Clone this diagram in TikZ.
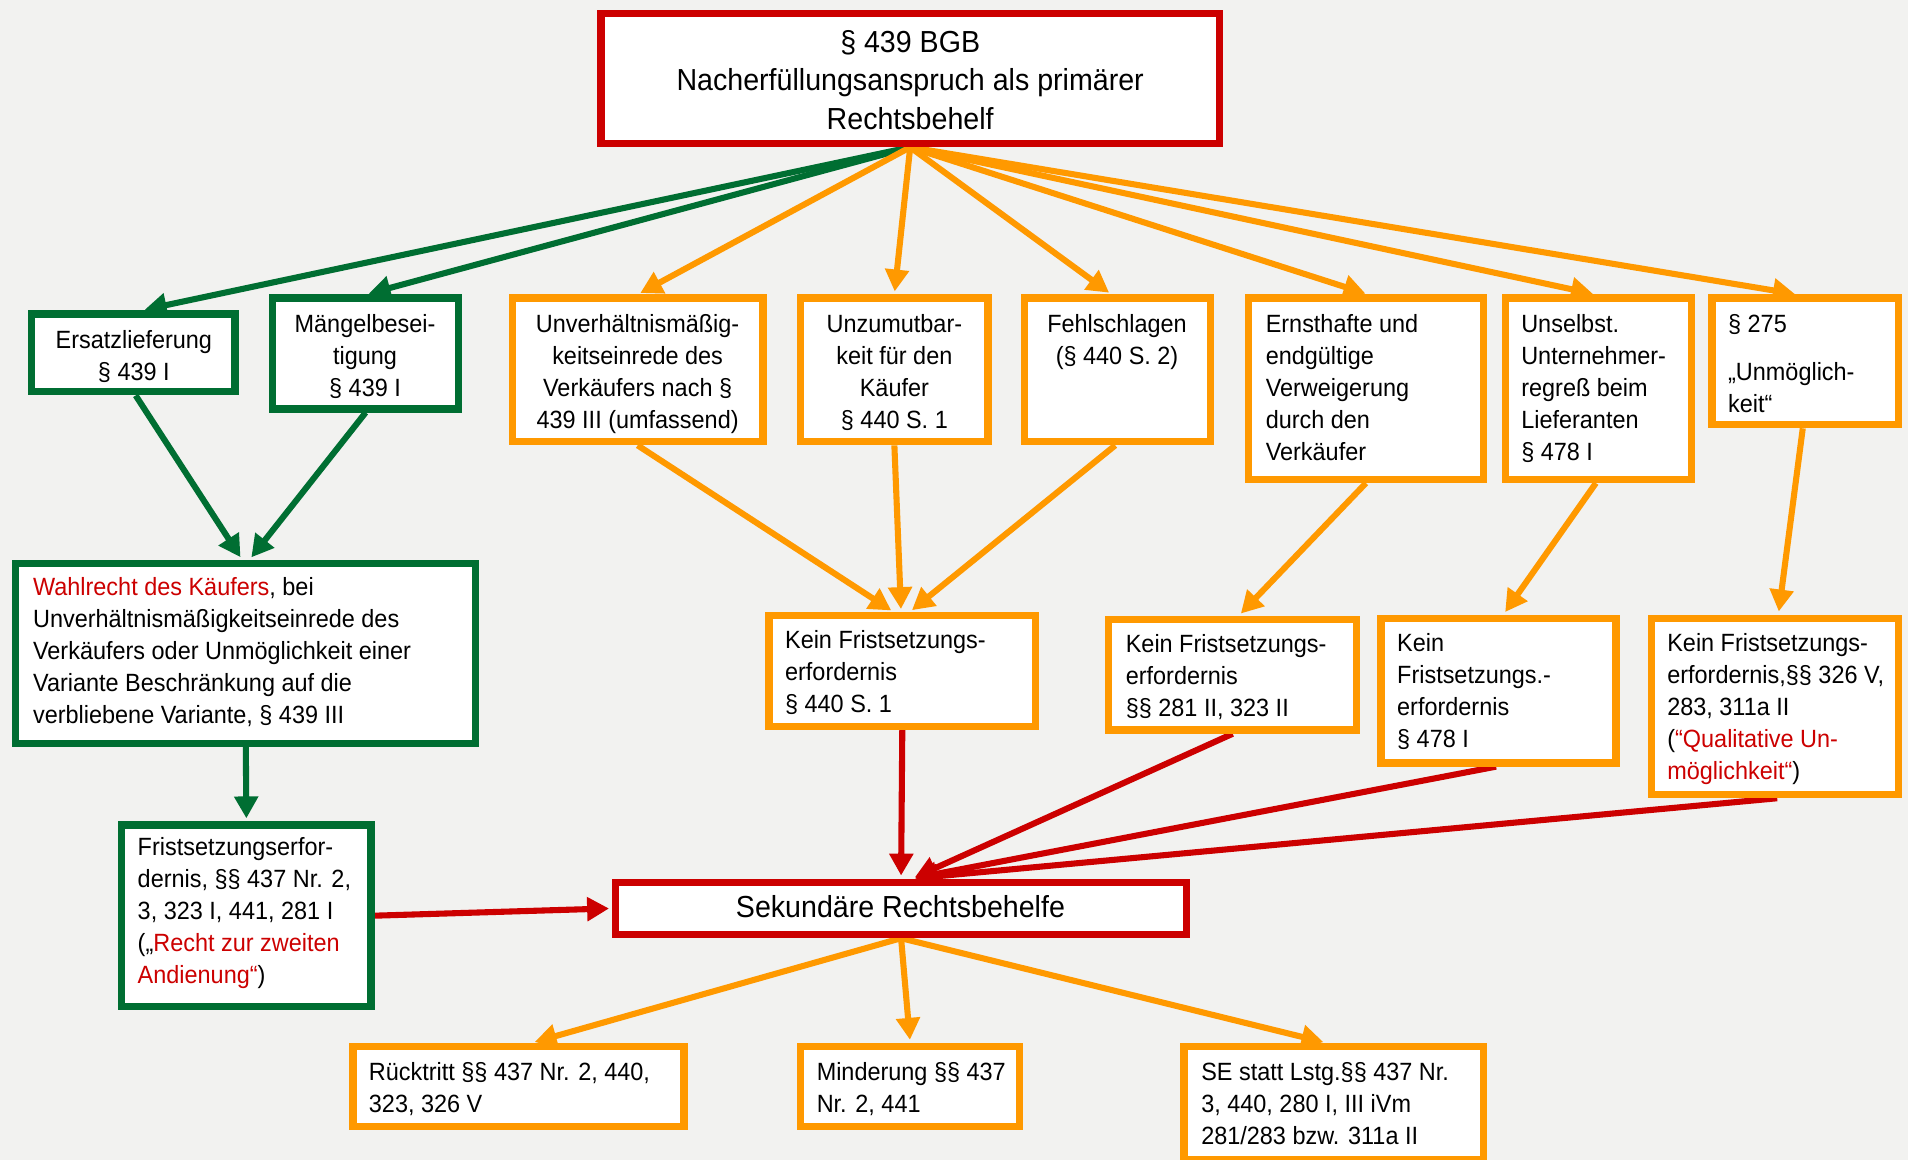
\documentclass[tikz,border=0pt]{standalone}
\usepackage{fontspec}
\setmainfont{Liberation Sans}[FakeStretch=0.94]
\usetikzlibrary{arrows.meta}

\definecolor{grn}{RGB}{0,110,50}
\definecolor{org}{RGB}{255,153,0}
\definecolor{rd}{RGB}{204,0,0}
\definecolor{paper}{RGB}{242,242,240}

\pgfdeclarelayer{back}
\pgfdeclarelayer{conn}
\pgfsetlayers{back,conn,main}

% first-line strut so that text nodes can be placed by their first baseline
\newcommand\fl{\rule{0pt}{20pt}}
\newcommand\flb{\rule{0pt}{24pt}}

% box from outer corner (x1,y1) to (x2,y2), border 6pt
\newcommand\bx[6]{%
  \node[box,draw=#2,minimum width={(#5-#3-6)*1pt},minimum height={(#6-#4-6)*1pt}]
    (#1) at ({(#3+#5)/2},{(#4+#6)/2}) {};}

\begin{document}
\begin{tikzpicture}[x=1pt,y=-1pt,
  box/.style={fill=white,line width=6pt,inner sep=0pt},
  small/.style={inner sep=0pt,font=\fontsize{20.5}{26.3}\selectfont},
  big/.style={inner sep=0pt,font=\fontsize{25}{31.5}\selectfont},
  txl/.style={small,anchor=north west,align=left},
  txc/.style={small,anchor=north,align=center},
  con/.style={line width=5pt,-{Triangle[length=18pt,width=19pt]},shorten >=2.5pt},
  gcon/.style={con,draw=grn},
  ocon/.style={con,draw=org},
  rcon/.style={con,draw=rd}]

\begin{pgfonlayer}{back}
  \fill[paper] (0,0) rectangle (1568,953);
\end{pgfonlayer}
\useasboundingbox (0,0) rectangle (1568,953);

% boxes
\bx{top}{rd}{491}{8}{1005}{121}
\bx{ers}{grn}{23}{255}{196}{325}
\bx{maen}{grn}{221}{242}{380}{339}
\bx{unv}{org}{418}{242}{630}{366}
\bx{unz}{org}{655}{242}{815}{366}
\bx{fehl}{org}{839}{242}{998}{366}
\bx{ernst}{org}{1023}{242}{1222}{397}
\bx{unsb}{org}{1234}{242}{1393}{397}
\bx{sec275}{org}{1404}{242}{1563}{352}
\bx{wahl}{grn}{10}{460}{394}{614}
\bx{kf1}{org}{629}{503}{854}{600}
\bx{kf2}{org}{908}{506}{1118}{603}
\bx{kf3}{org}{1132}{505}{1331}{630}
\bx{kf4}{org}{1354}{505}{1563}{656}
\bx{frist}{grn}{97}{675}{308}{830}
\bx{sek}{rd}{503}{722}{978}{771}
\bx{rueck}{org}{287}{857}{565}{929}
\bx{mind}{org}{655}{857}{841}{929}
\bx{sesl}{org}{970}{857}{1222}{956}

% texts
\node[big,anchor=north,align=center] (ttop) at (748,19)
  {\flb§ 439 BGB\\Nacherfüllungsanspruch als primärer\\Rechtsbehelf};
\node[txc] (ters) at (110,266) {\fl Ersatzlieferung\\§ 439 I};
\node[txc] (tmaen) at (300,253) {\fl Mängelbesei-\\tigung\\§ 439 I};
\node[txc] (tunv) at (524,253) {\fl Unverhältnismäßig-\\keitseinrede des\\Verkäufers nach §\\439 III (umfassend)};
\node[txc] (tunz) at (735,253) {\fl Unzumutbar-\\keit für den\\Käufer\\§ 440 S. 1};
\node[txc] (tfehl) at (918,253) {\fl Fehlschlagen\\(§ 440 S. 2)};
\node[txl] (ternst) at (1040,253) {\fl Ernsthafte und\\endgültige\\Verweigerung\\durch den\\Verkäufer};
\node[txl] (tunsb) at (1250,253) {\fl Unselbst.\\Unternehmer-\\regreß beim\\Lieferanten\\§ 478 I};
\node[txl] (t275) at (1420,253) {\fl§ 275\\[13pt]„Unmöglich-\\keit“};
\node[txl] (twahl) at (27,469) {\fl{\color{rd}Wahlrecht des Käufers}, bei\\Unverhältnismäßigkeitseinrede des\\Verkäufers oder Unmöglichkeit einer\\Variante Beschränkung auf die\\verbliebene Variante, § 439 III};
\node[txl] (tkf1) at (645,513) {\fl Kein Fristsetzungs-\\erfordernis\\§ 440 S. 1};
\node[txl] (tkf2) at (925,516) {\fl Kein Fristsetzungs-\\erfordernis\\§§ 281 II, 323 II};
\node[txl] (tkf3) at (1148,515) {\fl Kein\\Fristsetzungs.-\\erfordernis\\§ 478 I};
\node[txl] (tkf4) at (1370,515) {\fl Kein Fristsetzungs-\\erfordernis,§§ 326 V,\\283, 311a II\\({\color{rd}“Qualitative Un-}\\{\color{rd}möglichkeit“})};
\node[txl] (tfrist) at (113,683) {\fl Fristsetzungserfor-\\dernis, §§ 437 Nr. 2,\\3, 323 I, 441, 281 I\\(„{\color{rd}Recht zur zweiten}\\{\color{rd}Andienung“})};
\node[big,anchor=north,align=center] (tsek) at (740,730) {\flb Sekundäre Rechtsbehelfe};
\node[txl] (trueck) at (303,868) {\fl Rücktritt §§ 437 Nr. 2, 440,\\323, 326 V};
\node[txl] (tmind) at (671,868) {\fl Minderung §§ 437\\Nr. 2, 441};
\node[txl] (tsesl) at (987,868) {\fl SE statt Lstg.§§ 437 Nr.\\3, 440, 280 I, III iVm\\281/283 bzw. 311a II};

% connectors, drawn beneath the boxes
\begin{pgfonlayer}{conn}
  \draw[gcon] (top.south) -- ([xshift=7pt]ers.north);
  \draw[gcon] (top.south) -- (maen.north);
  \draw[ocon] (top.south) -- (unv.north);
  \draw[ocon] (top.south) -- (unz.north);
  \draw[ocon] (top.south) -- ([xshift=-5pt]fehl.north);
  \draw[ocon] (top.south) -- ([xshift=2pt]ernst.north);
  \draw[ocon] (top.south) -- ([xshift=-2pt]unsb.north);
  \draw[ocon] (top.south) -- ([xshift=-6pt]sec275.north);

  \draw[gcon] ([xshift=2pt]ers.south) -- ([xshift=-3pt]wahl.north);
  \draw[gcon] (maen.south) -- ([xshift=3pt]wahl.north);
  \draw[gcon] (wahl.south) -- (frist.north);

  \draw[ocon] (unv.south) -- ([xshift=-7pt]kf1.north);
  \draw[ocon] (unz.south) -- ([xshift=-1pt]kf1.north);
  \draw[ocon] ([xshift=-2pt]fehl.south) -- ([xshift=6pt]kf1.north);
  \draw[ocon] (ernst.south) -- ([xshift=5pt]kf2.north);
  \draw[ocon] ([xshift=-2pt]unsb.south) -- ([xshift=4pt]kf3.north);
  \draw[ocon] ([xshift=-2pt]sec275.south) -- ([xshift=3pt]kf4.north);

  \draw[rcon] (kf1.south) -- (sek.north);
  \draw[rcon] (kf2.south) -- ([xshift=9pt]sek.north);
  \draw[rcon] ([xshift=-2pt]kf3.south) -- ([xshift=9pt]sek.north);
  \draw[rcon] ([xshift=2pt]kf4.south) -- ([xshift=9pt]sek.north);
  \draw[rcon] (frist.east) -- (sek.west);

  \draw[ocon] (sek.south) -- ([xshift=11pt]rueck.north);
  \draw[ocon] (sek.south) -- (mind.north);
  \draw[ocon] (sek.south) -- ([xshift=-6pt]sesl.north);
\end{pgfonlayer}
\end{tikzpicture}
\end{document}
